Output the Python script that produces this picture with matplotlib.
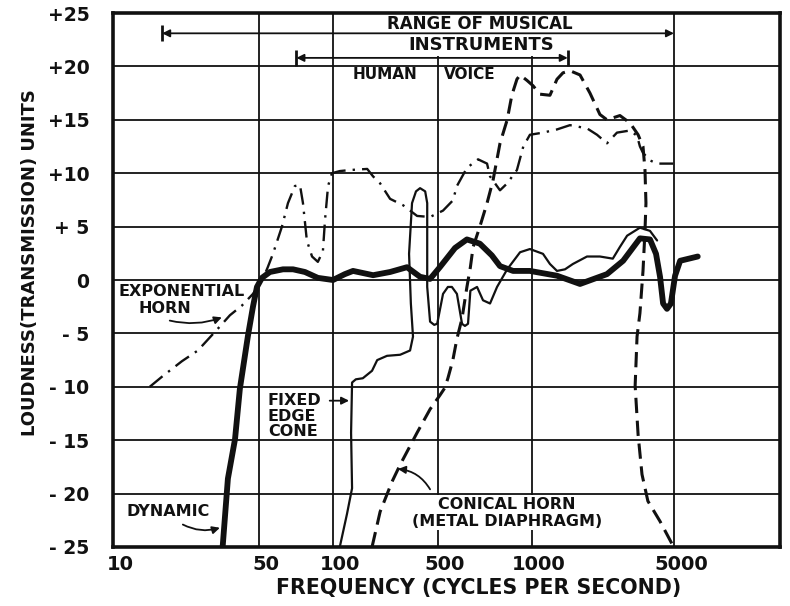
import numpy as np
import matplotlib
matplotlib.use("Agg")
import matplotlib.pyplot as plt
import matplotlib.transforms as mtransforms

# ---------- Data (frequency in cycles/s, loudness in TU) ----------
DYN_F = [33.5, 35.5, 38.4, 40.5, 44.3, 46.8, 48.9, 51.4, 55.4, 62.6, 68.8, 76.9, 86.8,
         100, 120, 136, 185, 240, 311, 380, 443, 507, 567, 619, 681, 744, 790, 870, 985,
         1328, 1724, 2340, 2810, 3400, 3810, 4080, 4270, 4420, 4620, 4830, 5060, 5350, 6490]
DYN_DB = [-25, -18.6, -14.9, -10.2, -5.2, -2.5, -0.65, 0.2, 0.75, 1.0, 1.0, 0.75, 0.2,
          0, 0.55, 0.85, 0.45, 0.75, 1.2, 0.3, 0.1, 1.2, 3.0, 3.8, 3.4, 2.3, 1.3, 0.85, 0.85,
          0.4, -0.37, 0.55, 1.8, 3.9, 3.8, 2.45, 0.3, -2.2, -2.7, -2.2, 0.4, 1.8, 2.2]

CONE_F = [111, 124, 134, 132, 134, 142, 158, 182, 197, 229,
          280, 326, 341, 330, 321, 336, 357, 380, 411, 424,
          424, 424, 443, 472, 494, 519, 538, 554, 575, 597,
          610, 624, 635, 667, 697, 734, 773, 833, 916, 985,
          1133, 1226, 1328, 1454, 1590, 1866, 2160, 2500, 2710, 2940,
          3400, 3810, 4130]
CONE_DB = [-25, -21.9, -19.5, -14.3, -9.6, -9.3, -9.2, -8.5, -7.5, -7.1,
           -7.0, -6.6, -5.3, -2.2, 2.45, 7.2, 8.3, 8.6, 8.3, 7.2,
           4.05, -0.65, -3.9, -4.2, -4.1, -1.3, -0.65, -0.65, -1.3, -4.1,
           -4.3, -4.1, -1.0, -0.65, -1.9, -2.2, -0.65, 1.0, 2.6, 2.9,
           2.45, 1.5, 0.85, 1.0, 1.5, 2.2, 2.2, 2.0, 3.1, 4.15,
           4.9, 4.6, 3.7]

EXP_F = [15.0, 17.3, 21.4, 25.5, 32.5, 36.3, 41.4, 46.8, 51.4, 54.3,
         57.0, 62.0, 65.6, 70.0, 73.4, 75.5, 78.3, 82.2, 86.8, 91.0,
         92.8, 95.5, 99, 111, 130, 169, 185, 206, 240, 293,
         363, 443, 519, 558, 575, 619, 672, 718, 734, 790,
         833, 895, 938, 985, 1133, 1328, 1538, 1866, 2090, 2340,
         2620, 3040, 3290, 3400, 3520, 3810, 4130, 4950]
EXP_DB = [-10.0, -9.0, -7.6, -6.6, -4.35, -3.3, -2.4, -1.3, -0.1, 1.2,
          2.45, 5.0, 7.2, 8.8, 8.9, 7.2, 3.7, 2.2, 1.7, 2.7,
          5.6, 8.8, 10.0, 10.2, 10.3, 10.4, 9.7, 9.05, 7.6, 7.0,
          6.0, 5.9, 6.5, 7.45, 8.8, 10.5, 11.3, 10.9, 9.7, 8.4,
          9.05, 10.3, 12.5, 13.6, 13.8, 14.1, 14.5, 14.2, 13.6, 12.8,
          13.8, 14.0, 13.5, 12.5, 11.9, 11.2, 10.9, 10.9]

CON_F = [182, 206, 247, 280, 363, 443, 507, 526, 538, 558,
         575, 597, 619, 635, 648, 681, 718, 750, 790, 833,
         862, 895, 916, 963, 1011, 1095, 1226, 1328, 1421, 1538,
         1724, 1930, 2160, 2340, 2710, 3040, 3330, 3520, 3600, 3640,
         3600, 3520, 3400, 3290, 3220, 3330, 3480, 3720, 4270, 4950]
CON_DB = [-25, -21.7, -18.9, -17.3, -14.3, -12.1, -10.8, -10.1, -9.2, -7.5,
          -5.5, -3.6, -0.65, 1.2, 3.1, 5.0, 7.2, 9.3, 12.8, 15.0,
          17.3, 18.8, 19.2, 18.7, 18.2, 17.4, 17.3, 18.8, 19.4, 19.6,
          19.2, 17.5, 15.5, 15.0, 15.4, 14.7, 13.6, 12.5, 10.3, 7.2,
          4.6, 0.85, -3.1, -5.3, -9.9, -14.5, -18.2, -20.7, -22.6, -24.9]

X_TICKS = [10, 50, 100, 500, 1000, 5000]
X_LABELS = ["10", "50", "100", "500", "1000", "5000"]
Y_TICKS = [25, 20, 15, 10, 5, 0, -5, -10, -15, -20, -25]
Y_LABELS = ["+25", "+20", "+15", "+10", "+ 5", "0", "- 5", "- 10", "- 15", "- 20", "- 25"]

MUSIC_RANGE = (17.2, 5000)
VOICE_RANGE = (71, 1500)

# ---------- Hand-ruled frequency axis (uneven log spacing) ----------
GRID_FREQS = [10, 50, 100, 500, 1000, 5000, 16000]
GRID_POS = [0, 146, 220, 325, 419, 561, 667]


def fwd(f):
    f = np.asarray(f, dtype=float)
    with np.errstate(divide="ignore", invalid="ignore"):
        return np.interp(np.log10(f), np.log10(GRID_FREQS), GRID_POS)


def inv(p):
    p = np.asarray(p, dtype=float)
    return 10 ** np.interp(p, GRID_POS, np.log10(GRID_FREQS))


INK = "#111111"
plt.rcParams["font.family"] = "DejaVu Sans"
plt.rcParams["font.weight"] = "bold"

fig = plt.figure(figsize=(7.9, 6.06), dpi=100)
ax = fig.add_axes([0.143, 0.0974, 0.8443, 0.8811])
ax.set_xscale("function", functions=(fwd, inv))
ax.set_xlim(10, 16000)
ax.set_ylim(-25, 25)

ax.set_xticks(X_TICKS)
ax.set_xticklabels(X_LABELS, fontsize=14, fontweight="bold")
ax.set_yticks(Y_TICKS)
ax.set_yticklabels(Y_LABELS, fontsize=13.5, fontweight="bold")
ax.tick_params(axis="both", length=0, colors=INK)
ax.tick_params(axis="x", pad=6)
ax.tick_params(axis="y", pad=17)
shift = mtransforms.ScaledTranslation(0.07, 0, fig.dpi_scale_trans)
for lab in ax.get_xticklabels():
    lab.set_transform(lab.get_transform() + shift)

ax.grid(True, color=INK, lw=1.3)
ax.set_axisbelow(True)
for sp in ax.spines.values():
    sp.set_linewidth(2.6)
    sp.set_color(INK)
    sp.set_zorder(10)

# ---------- Response curves ----------
ax.plot(EXP_F, EXP_DB, color=INK, lw=1.7, linestyle=(0, (7, 3, 1, 3)), zorder=4)
ax.plot(CON_F, CON_DB, color=INK, lw=2.2, linestyle=(0, (5, 2.5)), zorder=4)
ax.plot(CONE_F, CONE_DB, color=INK, lw=1.6, solid_joinstyle="round",
        solid_capstyle="round", zorder=4)
ax.plot(DYN_F, DYN_DB, color=INK, lw=4.2, solid_joinstyle="round",
        solid_capstyle="round", zorder=5)

# ---------- Range markers ----------
arrow_kw = dict(arrowstyle="<|-|>", color=INK, lw=1.3, mutation_scale=11,
                shrinkA=0, shrinkB=0)
ax.annotate("", xy=(MUSIC_RANGE[1], 23.1), xytext=(MUSIC_RANGE[0], 23.1),
            arrowprops=arrow_kw, zorder=4)
ax.annotate("", xy=(VOICE_RANGE[1], 20.8), xytext=(VOICE_RANGE[0], 20.8),
            arrowprops=arrow_kw, zorder=4)
ax.plot([MUSIC_RANGE[0]], [23.1], marker="|", ms=11, mew=2, color=INK, zorder=4)
ax.plot(list(VOICE_RANGE), [20.8, 20.8], marker="|", ms=11, mew=2, color=INK, lw=0, zorder=4)

boxed = dict(facecolor="white", edgecolor="none", pad=1.0)
txt = dict(color=INK, fontweight="bold", ha="center", va="center", zorder=3)
ax.text(680, 23.95, "RANGE OF MUSICAL", fontsize=12, bbox=boxed, **txt)
ax.text(690, 22.0, "INSTRUMENTS", fontsize=13, bbox=boxed, **txt)
ax.text(222, 19.2, "HUMAN", fontsize=11, **txt)
ax.text(633, 19.2, "VOICE", fontsize=11, **txt)

# ---------- Curve labels ----------
lab = dict(color=INK, fontweight="bold", va="center", fontsize=11.5, zorder=3)
ax.text(10.6, -1.1, "EXPONENTIAL", ha="left", **lab)
ax.text(13.2, -2.7, "HORN", ha="left", **lab)
ax.annotate("", xy=(33.2, -3.5), xytext=(18.7, -3.8),
            arrowprops=dict(arrowstyle="-|>", color=INK, lw=1.3, mutation_scale=11,
                            shrinkA=0, shrinkB=0, connectionstyle="arc3,rad=0.15"))

ax.text(18.3, -21.7, "DYNAMIC", ha="center", **lab)
ax.annotate("", xy=(32.5, -23.2), xytext=(21.6, -22.9),
            arrowprops=dict(arrowstyle="-|>", color=INK, lw=1.3, mutation_scale=11,
                            shrinkA=0, shrinkB=0, connectionstyle="arc3,rad=0.2"))

ax.text(54.3, -11.3, "FIXED", ha="left", **lab)
ax.text(54.3, -12.8, "EDGE", ha="left", **lab)
ax.text(54.3, -14.2, "CONE", ha="left", **lab)
ax.annotate("", xy=(128, -11.3), xytext=(97, -11.3),
            arrowprops=dict(arrowstyle="-|>", color=INK, lw=1.3, mutation_scale=11,
                            shrinkA=0, shrinkB=0))

ax.text(833, -21.0, "CONICAL HORN", ha="center", bbox=boxed, **lab)
ax.text(833, -22.6, "(METAL DIAPHRAGM)", ha="center", bbox=boxed, **lab)
ax.annotate("", xy=(271, -17.7), xytext=(443, -19.6),
            arrowprops=dict(arrowstyle="-|>", color=INK, lw=1.3, mutation_scale=11,
                            shrinkA=0, shrinkB=0, connectionstyle="arc3,rad=0.25"))

# ---------- Axis titles ----------
fig.text(30 / 790, 1 - 263 / 606, "LOUDNESS(TRANSMISSION) UNITS", rotation=90,
         ha="center", va="center", fontsize=13, fontweight="bold", color=INK)
fig.text(479 / 790, 1 - 588 / 606, "FREQUENCY (CYCLES PER SECOND)",
         ha="center", va="center", fontsize=14.8, fontweight="bold", color=INK)

fig.savefig("out.png", dpi=100, facecolor="white")
